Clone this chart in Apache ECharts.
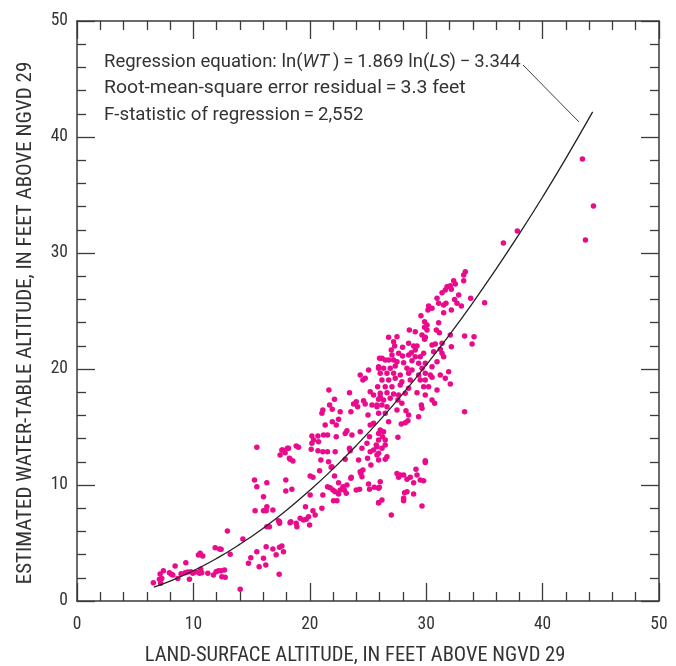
<!DOCTYPE html>
<html>
<head>
<meta charset="utf-8">
<script src="https://cdn.jsdelivr.net/npm/echarts@6/dist/echarts.min.js"></script>
<style>html,body{margin:0;padding:0;background:#fff}#c{width:676px;height:666px}</style>
</head>
<body>
<div id="c"></div>
<script>
// Tick labels
var xTicks = [0, 10, 20, 30, 40, 50];
var yTicks = [0, 10, 20, 30, 40, 50];
var xTitle = 'LAND-SURFACE ALTITUDE, IN FEET ABOVE NGVD 29';
var yTitle = 'ESTIMATED WATER-TABLE ALTITUDE, IN FEET ABOVE NGVD 29';

// Regression curve (land surface, water table)
var curveLS = [6.6, 8, 10, 12, 14, 16, 18, 20, 22, 24, 26, 28, 30, 32, 34, 36, 38, 40, 42, 44.3];
var curveWT = [1.20, 1.72, 2.61, 3.67, 4.90, 6.28, 7.83, 9.54, 11.39, 13.41, 15.57, 17.88, 20.34, 22.95, 25.71, 28.61, 31.65, 34.83, 38.16, 42.16];

// Observations: [land-surface altitude, estimated water-table altitude]
var lowPoints = [
[6.56,1.58],[7.14,2.33],[7.08,1.87],[7.28,1.95],[7.19,1.52],[7.42,2.61],[7.94,2.44],[8.1,2.3],[8.23,2.24],[8.43,3.02],
[8.66,1.95],[8.94,2.35],[9.29,2.44],[9.35,3.30],[9.5,2.5],[9.66,1.87],[9.78,2.53],[9.95,2.39],[10.2,2.5],[10.43,3.97],
[10.58,4.11],[10.8,3.88],[10.63,2.73],[10.52,2.39],[10.72,2.44],[11.24,2.39],[11.72,2.24],[11.87,4.6],[12.24,4.48],[12.38,4.46],
[11.95,2.53],[12.15,2.61],[12.36,2.61],[12.67,2.67],[12.44,2.1],[12.73,2.04],[12.92,6.03],[13.16,4.02],[14.02,1.01],[14.25,5.34],
[14.73,3.25],[14.93,3.73],[15.45,4.25],[15.65,2.96],[16.02,3.68],[16.22,3.1],[16.25,4.68],[16.83,4.48],[17.11,3.99],[17.37,2.3],
[17.4,4.63],[17.6,4.74],[17.74,4.25],[18.3,6.75],[17.31,6.92],[17.4,6.7],[16.31,6.41],[16.53,6.41],[16.02,7.78],[16.25,7.78],
[16.83,7.84],[16.02,8.99],[16.31,8.13],[15.3,7.78],[15.25,10.43],[15.45,9.85],[16.31,10.2],[15.45,13.25],[17.94,10.43],[17.94,9.48],
[17.45,12.59],[17.68,13.02],[17.88,12.78],[18.17,13.16],[18.25,12.3]
];
var midPoints = [
[17.4,6.84],[18.37,6.84],[18.83,6.7],[18.89,6.41],[19.17,7.13],[19.46,6.98],[19.69,7.04],[19.89,7.27],[19.98,6.55],[20.27,7.78],
[20.46,7.41],[19.63,8.13],[20.03,9.14],[21.04,7.99],[21.12,9.14],[21.52,9.85],[21.75,9.77],[21.99,9.57],[22.18,9.42],[22.47,9.22],
[22.61,9.57],[22.04,8.65],[22.33,8.65],[22.47,10.2],[22.85,9.85],[22.96,9.57],[23.19,10.0],[23.13,9.28],[23.53,10.58],[23.99,9.57],
[24.28,9.63],[24.48,10.72],[24.39,11.0],[24.56,11.29],[25.05,10.09],[25.13,9.63],[25.54,9.8],[25.91,9.72],[25.91,8.47],[18.46,9.63],
[20.03,10.78],[20.27,10.66],[20.84,11.23],[21.84,11.53],[22.12,10.78],[23.56,10.66],[17.6,13.02],[18.08,13.16],[18.31,12.22],[18.55,12.07],
[18.83,13.36],[19.03,13.25],[20.18,14.22],[20.32,13.88],[20.18,13.59],[20.12,13.08],[20.7,14.22],[20.75,13.73],[20.7,12.96],[21.12,12.87],
[21.18,14.31],[21.52,14.31],[21.52,12.87],[20.95,12.16],[21.61,12.01],[22.18,12.87],[21.9,11.58],[21.32,15.17],[21.04,16.18],[21.12,16.47],
[21.7,16.9],[21.93,16.53],[21.64,18.19],[22.12,17.39],[21.93,15.46],[22.27,15.17],[22.47,15.66],[22.61,16.32],[22.27,14.16],[23.04,14.45],
[23.19,14.68],[23.62,14.31],[23.41,13.16],[23.47,12.96],[23.04,12.22],[23.41,17.96],[23.53,16.32],[23.76,16.98],[23.99,17.18],[24.11,16.75],
[24.33,14.6],[24.62,17.27],[24.76,16.98],[25.0,16.03],[24.33,19.48],[24.56,19.05],[24.76,19.2],[25.05,19.91],[24.48,13.16],[24.19,12.16],
[24.33,11.15],[24.91,13.59],[25.13,14.16],[25.19,12.87],[24.96,12.3],[25.25,11.72],[25.48,13.02],[25.71,13.45],[25.19,15.17],[25.48,15.32],
[25.91,14.45],[25.99,20.92],[25.91,20.06],[25.19,18.04],[25.48,17.76],[25.77,16.75],[25.83,18.47],[26.05,17.61],[25.34,16.9],[25.91,12.16],
[25.77,12.59],[26.05,10.28]
];
var highPoints = [
[33.36,28.39],[33.22,28.1],[33.22,27.61],[32.36,27.61],[32.5,27.33],[32.07,27.18],[31.79,27.09],[32.16,26.87],[31.64,26.81],[31.36,26.58],
[32.79,26.38],[32.44,26.0],[30.93,26.09],[31.07,25.66],[31.7,25.66],[31.5,25.52],[32.65,25.66],[33.02,25.43],[30.21,25.43],[30.5,25.23],
[30.15,25.09],[32.16,25.09],[31.5,24.85],[33.82,26.09],[35.02,25.72],[29.55,24.6],[29.86,24.08],[30.07,23.79],[29.86,23.59],[31.07,23.99],
[30.07,23.36],[28.55,23.36],[29.06,23.21],[30.87,23.36],[31.13,23.13],[29.64,22.93],[29.92,22.73],[29.86,22.56],[32.07,22.93],[33.3,22.84],
[34.11,22.78],[33.94,22.16],[26.77,22.73],[27.49,22.78],[27.2,22.35],[27.29,21.98],[28.49,22.21],[27.97,21.87],[28.92,21.98],[29.21,21.98],
[29.06,21.64],[30.5,22.07],[30.78,22.16],[31.36,22.21],[31.21,21.7],[32.16,21.92],[27.0,21.64],[27.06,21.21],[27.63,21.35],[27.97,21.12],
[28.49,21.21],[28.72,21.41],[29.06,21.06],[29.49,21.06],[29.78,21.35],[30.64,21.49],[31.36,21.35],[31.5,21.06],[26.2,20.92],[26.48,20.78],
[26.77,20.78],[27.2,20.78],[27.49,20.63],[28.06,20.54],[28.78,20.72],[29.35,20.49],[29.92,20.49],[30.93,20.63],[25.91,20.2],[26.34,20.06],
[26.91,20.06],[27.34,20.26],[28.35,20.06],[28.78,19.91],[29.64,20.06],[30.5,20.2],[26.05,19.63],[26.63,19.63],[27.2,19.63],[27.77,19.48],
[28.49,19.63],[29.35,19.48],[29.92,19.63],[30.35,19.48],[31.21,19.48],[31.93,19.77],[26.2,19.05],[26.77,19.05],[27.34,19.2],[27.91,18.91],
[28.63,19.05],[29.49,19.05],[29.92,19.05],[30.5,19.28],[31.64,19.2],[32.07,18.71],[26.48,18.47],[27.06,18.47],[27.77,18.62],[28.49,18.34],
[29.78,18.47],[30.21,18.47],[30.93,18.19],[26.05,17.9],[26.63,17.96],[27.2,17.84],[27.63,17.76],[28.2,17.9],[29.21,17.96],[29.92,17.76],
[25.91,17.39],[26.34,17.33],[26.91,17.47],[27.57,17.33],[30.5,17.33],[30.72,17.04],[25.77,16.9],[26.2,16.9],[26.63,16.75],[27.49,16.47],
[27.91,17.04],[28.26,16.41],[28.49,16.03],[29.58,16.9],[29.64,16.61],[29.35,15.89],[25.91,16.18],[26.48,16.18],[26.77,15.46],[27.86,15.26],
[28.2,15.37],[28.43,15.54],[26.05,14.74],[26.34,14.6],[26.25,14.16],[25.91,13.88],[26.48,13.88],[26.48,13.45],[25.77,13.3],[26.2,13.16],
[25.91,12.73],[26.63,12.44],[26.48,12.22],[27.57,14.11],[33.3,16.32],[29.92,12.1],[29.92,11.93],[29.12,11.35],[27.49,11.0],[27.77,10.86],
[28.06,10.86],[27.63,10.66],[28.35,10.49],[28.63,10.66],[28.92,10.2],[29.21,10.86],[29.49,10.43],[29.78,10.37],[25.97,9.8],[28.14,9.34],
[28.35,9.42],[28.92,9.22],[28.06,8.85],[28.06,8.65],[26.2,8.71],[25.91,8.47],[29.64,8.19],[27.0,7.41],
[36.63,30.86],[37.83,31.9],[43.42,38.1],[43.68,31.12],[44.37,34.05]
];

var NARROW = "'Liberation Sans Narrow','Roboto Condensed',sans-serif";
var FONT = "Roboto,'Liberation Sans',sans-serif";
var TS = '\u2009';
var observations = lowPoints.concat(midPoints, highPoints);
var curve = curveLS.map(function (x, i) { return [x, curveWT[i]]; });

var chart = echarts.init(document.getElementById('c'), null, {renderer: 'canvas'});
var axisLineStyle = {color: '#3a3a3a', width: 1.5};
function mkAxis(pos, showLabel, name, nameGap, nameSize, namePad, ticks) {
  return {
    type: 'value', position: pos, min: ticks[0], max: ticks[ticks.length - 1], interval: 10,
    name: name, nameLocation: 'middle', nameGap: nameGap,
    nameTextStyle: {fontFamily: NARROW, fontSize: nameSize, color: '#333', padding: namePad},
    axisLine: {show: true, onZero: false, lineStyle: axisLineStyle},
    axisTick: {show: true, inside: true, length: 18, lineStyle: {color: '#3a3a3a', width: 1.3}},
    minorTick: {show: true, splitNumber: 5, length: 9, lineStyle: {color: '#3a3a3a', width: 1.3}},
    axisLabel: {show: showLabel, fontFamily: NARROW, fontSize: 17.5, color: '#333', margin: pos === 'bottom' ? 15 : 9},
    splitLine: {show: false}
  };
}
function note(text, y, sx, rich) {
  var st = {text: text, fontFamily: FONT, fontSize: 18.5, fill: '#333', verticalAlign: 'top', align: 'left'};
  if (rich) st.rich = rich;
  return {type: 'text', x: 104, y: y, scaleX: sx, scaleY: 1, style: st, z: 10};
}
var option = {
  backgroundColor: '#fff',
  animation: false,
  grid: {left: 77, right: 17, top: 21, bottom: 65, containLabel: false, outerBoundsMode: 'none'},
  xAxis: [mkAxis('bottom', true, xTitle, 44, 20.5, [0, 26, 0, 0], xTicks), mkAxis('top', false, '', 0, 20, 0, xTicks)],
  yAxis: [mkAxis('left', true, yTitle, 41, 21, [0, 24, 0, 0], yTicks), mkAxis('right', false, '', 0, 20, 0, yTicks)],
  graphic: [
    note('{n|Regression equation: ln(}{i|WT}{n|' + TS + ')' + TS + '=' + TS + '1.869 ln(}{i|LS}{n|)' + TS + '−' + TS + '3.344}', 52.5, 1.0,
      {n: {fontFamily: FONT, fontSize: 18.5, fill: '#333'}, i: {fontFamily: FONT, fontSize: 18.5, fontStyle: 'italic', fill: '#333'}}),
    note('Root-mean-square error residual' + TS + '=' + TS + '3.3 feet', 79, 1.05),
    note('F-statistic of regression' + TS + '=' + TS + '2,552', 105.5, 1.01),
    {type: 'line', shape: {x1: 523, y1: 65, x2: 579, y2: 122}, style: {stroke: '#444', lineWidth: 1}}
  ],
  series: [
    {type: 'scatter', xAxisIndex: 0, yAxisIndex: 0, data: observations, symbolSize: 5.5,
     itemStyle: {color: '#ea0a8c', opacity: 1}, z: 2},
    {type: 'line', xAxisIndex: 0, yAxisIndex: 0, data: curve, smooth: true, showSymbol: false, symbol: 'none',
     lineStyle: {color: '#222', width: 1.3}, z: 3}
  ]
};
chart.setOption(option);
</script>
</body>
</html>
